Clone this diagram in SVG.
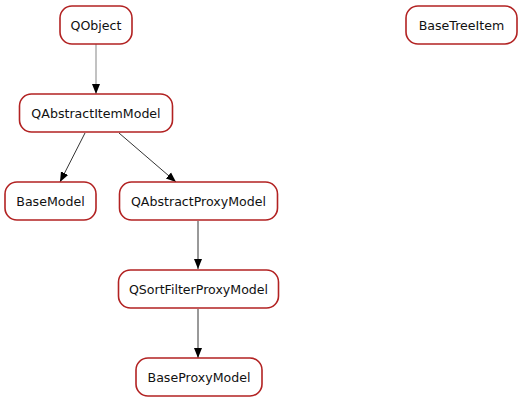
<svg xmlns="http://www.w3.org/2000/svg" width="521" height="403" viewBox="0 0 521 403">
<style>
.n rect{fill:#fff;stroke:#b22222;stroke-width:1.6}
.n text{font-family:"DejaVu Sans",sans-serif;font-size:12.6px;text-anchor:middle;fill:#111}
.e line{stroke:#000;stroke-width:0.8}
</style>
<defs>
<marker id="a" viewBox="0 0 10 10" refX="10" refY="5" markerWidth="10" markerHeight="10" markerUnits="userSpaceOnUse" orient="auto">
<path d="M0,1 L10,5 L0,9 Z" fill="#000"/>
</marker>
</defs>
<rect width="521" height="403" fill="#fff"/>
<g class="e">
<line x1="96" y1="44" x2="96" y2="94" style="stroke:#a8a8a8;stroke-width:1.4" marker-end="url(#a)"/>
<line x1="85" y1="133" x2="60" y2="182" marker-end="url(#a)"/>
<line x1="119" y1="133" x2="176" y2="182" marker-end="url(#a)"/>
<line x1="198" y1="221" x2="198" y2="269" marker-end="url(#a)"/>
<line x1="198" y1="309" x2="198" y2="358" marker-end="url(#a)"/>
</g>
<g class="n" id="QObject"><rect x="60" y="6" width="72" height="38" rx="12"/><text x="96" y="29.5">QObject</text></g>
<g class="n" id="BaseTreeItem"><rect x="406" y="6" width="111" height="38" rx="12"/><text x="461.5" y="29.5">BaseTreeItem</text></g>
<g class="n" id="QAbstractItemModel"><rect x="19.5" y="94" width="153" height="38" rx="12"/><text x="96" y="117.5">QAbstractItemModel</text></g>
<g class="n" id="BaseModel"><rect x="5" y="182" width="91" height="38" rx="12"/><text x="50.5" y="205.5">BaseModel</text></g>
<g class="n" id="QAbstractProxyModel"><rect x="119.5" y="182" width="158" height="38" rx="12"/><text x="198.5" y="205.5">QAbstractProxyModel</text></g>
<g class="n" id="QSortFilterProxyModel"><rect x="118.5" y="270" width="160" height="38" rx="12"/><text x="198.5" y="293.5">QSortFilterProxyModel</text></g>
<g class="n" id="BaseProxyModel"><rect x="136" y="358" width="126" height="38" rx="12"/><text x="199" y="381.5">BaseProxyModel</text></g>
</svg>
